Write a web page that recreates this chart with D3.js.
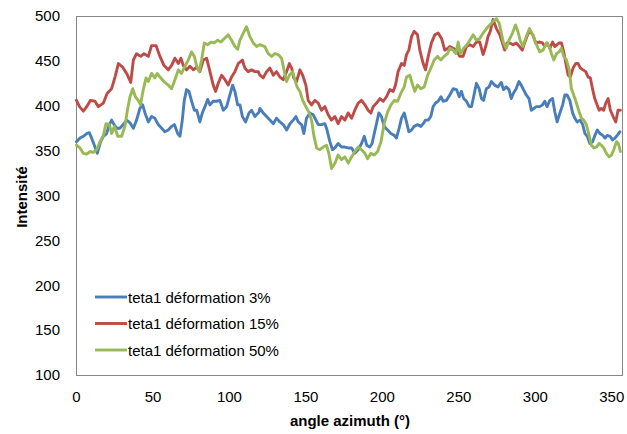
<!DOCTYPE html>
<html>
<head>
<meta charset="utf-8">
<script src="https://cdn.jsdelivr.net/npm/d3@7"></script>
<style>
  html, body { margin: 0; padding: 0; background: #fff; }
  svg { display: block; font-family: "Liberation Sans", Arial, sans-serif; }
</style>
</head>
<body>
<svg id="chart" width="627" height="434"></svg>
<script>
// Azimuthal intensity profiles (teta1) at three strain levels.
const xTicks = [0, 50, 100, 150, 200, 250, 300, 350];
const yTicks = [100, 150, 200, 250, 300, 350, 400, 450, 500];
const seriesNames = ["teta1 déformation 3%", "teta1 déformation 15%", "teta1 déformation 50%"];
const seriesColors = ["#4A7EBB", "#BE4B48", "#98B954"];

const anglesA = [0.3,2.6,4.8,7.0,8.7,10.2,12.4,13.9,16.1,17.9,20.0,21.8,23.3,24.9,26.6,28.7,30.9,33.1,35.3,37.5,39.6,41.8,43.6,45.1,47.3,49.4,51.6,53.8,56.0,
  58.1,60.3,62.5,64.3,66.5,68.0,69.5,70.8,72.3,73.9,75.6,77.4,78.9,81.0,82.6,84.3,86.1,87.6,89.7,91.9,94.1,96.3,98.5,100.6,102.4,103.9,105.7,107.2,108.8,110.9,113.1,114.8,117.0,119.7,
  120.2,122.4,124.6,126.8,129.0,131.1,133.3,135.5,137.7,139.9,142.0,143.8,145.3,147.5,149.0,150.7,152.9,155.1,156.9,158.4,160.5,162.7,163.8,166.0,167.7,169.3,171.4,173.6,175.8,178.0,180.2,
  182.3,184.5,186.7,188.5,190.1,192.1,193.6,195.0,196.5,198.0,199.7,201.5,203.7,205.9,208.1,209.5,211.3,212.8,214.6,216.1,217.6,219.4,221.1,223.3,225.5,227.0,228.5,230.3,232.0,233.5,235.1,236.8,238.6,240.1,242.2,
  244.4,246.6,248.8,250.6,252.0,253.5,255.3,257.1,258.6,260.0,261.8,263.6,265.1,266.5,268.3,270.1,271.6,273.7,275.9,278.1,279.5,281.3,283.1,284.6,286.0,287.8,289.6,291.1,292.6,294.4,296.2,297.7,299.3,301.0,
  303.2,305.0,306.5,308.0,309.8,311.6,313.1,314.6,316.4,318.2,319.6,321.1,322.9,324.7,326.2,327.7,329.5,331.3,332.8,334.3,336.0,337.8,339.3,340.8,342.6,344.4,345.9,347.4,349.1,350.8,352.4,353.9,355.6];
const valuesA = [360,364,366,369,370,364,354,347,360,366,369,379,384,379,375,375,379,384,381,375,384,397,401,392,382,388,386,379,375,
  371,373,377,379,369,366,384,406,418,416,405,395,395,382,392,399,407,401,405,405,406,395,399,412,423,416,401,401,388,382,392,395,388,393,
  397,392,388,384,380,386,382,379,373,380,384,388,382,379,369,386,392,390,384,379,379,380,375,360,351,353,358,354,354,353,353,
  347,351,358,366,356,354,358,369,380,392,388,377,373,369,367,364,375,386,392,382,371,373,377,379,377,380,384,384,388,399,403,405,410,405,406,
  412,419,418,410,416,408,405,399,399,410,425,419,408,406,419,421,427,423,421,426,418,421,418,408,414,419,427,423,418,412,408,395,397,399,
  399,401,405,399,406,408,393,382,392,401,412,412,406,392,386,382,384,379,369,366,358,360,367,373,369,367,364,367,366,362,364,367,371];

const anglesB = [0.3,2.3,4.8,7.0,9.5,12.4,14.6,17.9,20.4,23.3,25.5,27.7,30.5,33.1,35.8,37.5,39.6,42.3,44.5,47.3,49.4,52.3,54.9,57.5,
  60.3,62.5,64.7,66.9,68.6,70.1,72.3,74.5,76.7,78.9,81.0,83.2,85.4,87.6,89.7,91.3,93.0,95.2,97.4,99.5,101.7,103.9,106.1,108.8,110.4,112.6,114.8,117.0,119.2,
  120.2,122.4,124.6,126.8,129.0,131.1,133.3,135.5,137.7,139.5,141.0,142.4,144.2,146.4,148.2,150.3,151.8,154.0,156.2,158.4,160.5,162.7,164.9,167.1,169.3,171.4,173.6,175.8,178.0,180.2,
  182.3,184.5,186.7,188.9,191.0,192.8,194.3,196.5,198.7,200.9,203.0,205.2,207.4,208.9,210.6,212.8,214.6,216.1,217.6,219.4,221.1,223.3,224.8,227.0,228.5,230.3,232.4,234.6,236.8,239.0,241.1,243.3,
  244.4,246.6,248.8,250.9,253.1,255.3,257.5,259.7,261.8,264.0,266.2,267.9,269.4,270.9,272.7,274.9,277.1,278.8,280.3,281.8,283.6,285.8,287.8,290.0,291.8,293.3,294.8,296.5,298.7,300.6,
  303.2,305.0,306.5,308.0,309.8,311.6,313.1,314.6,315.9,317.4,318.9,320.3,321.8,323.2,325.0,326.8,328.3,329.8,331.5,333.3,334.8,336.3,337.7,339.2,340.7,342.1,343.5,345.0,346.4,347.9,349.4,351.2,352.9,354.4,355.9];
const valuesB = [406,399,394,399,406,405,399,403,414,419,432,447,443,436,426,451,458,455,458,455,467,467,455,445,
  440,445,453,447,453,445,440,444,440,443,438,451,453,438,423,416,425,434,429,423,432,438,447,451,442,438,440,438,438,
  434,431,438,442,434,438,432,429,438,447,442,431,427,440,434,423,406,401,406,403,395,399,390,384,388,380,388,384,392,386,
  395,403,406,401,395,392,399,403,408,405,410,418,416,423,438,447,445,457,462,477,483,479,462,447,440,455,470,479,481,475,462,464,
  466,464,462,455,455,466,468,466,471,471,457,466,477,483,496,486,479,470,462,470,470,468,470,466,462,470,477,484,479,470,
  471,470,466,470,464,471,466,468,470,470,460,447,434,432,442,447,447,442,440,438,432,431,419,408,401,395,397,395,403,408,395,388,382,395,395];

const anglesC = [0.3,2.6,4.8,7.0,9.1,11.3,13.5,15.7,17.9,19.6,21.8,23.3,25.1,27.3,29.8,32.0,33.6,35.3,37.1,38.8,40.7,42.2,44.0,45.8,47.3,49.4,51.6,53.1,54.9,57.5,
  60.3,62.5,64.7,66.9,69.0,71.2,73.4,75.6,77.4,78.9,80.6,82.1,83.9,86.1,88.3,90.4,92.6,94.8,97.0,99.5,101.7,103.9,105.7,107.2,109.4,111.5,113.7,115.9,118.1,
  120.2,123.5,125.7,127.9,130.0,132.2,134.4,136.0,137.7,139.5,141.6,143.1,144.6,146.4,148.2,150.3,152.5,154.0,155.5,157.3,159.5,161.6,163.8,165.3,167.1,169.3,171.4,173.6,175.8,178.0,180.2,
  182.3,184.5,186.7,188.9,190.6,192.8,195.0,197.2,199.4,201.5,203.7,205.9,208.1,210.3,212.4,214.6,216.1,218.3,219.8,221.5,223.3,225.5,227.7,229.9,232.0,234.2,236.4,238.6,240.7,242.9,
  244.4,246.6,248.4,249.9,251.3,253.5,255.7,257.5,259.7,261.8,264.0,266.2,268.4,270.5,272.7,274.9,276.7,278.1,279.5,281.3,283.1,285.4,287.4,288.9,290.4,292.2,294.4,296.5,298.7,300.6,
  303.2,305.4,307.6,309.4,310.9,312.4,314.2,315.9,317.4,318.9,320.7,322.5,323.9,325.4,327.2,329.0,330.5,332.0,333.7,335.5,337.0,338.5,340.3,342.1,343.5,345.0,346.8,348.6,350.1,351.6,353.4,354.6,355.9];
const valuesC = [356,353,347,346,349,348,351,360,367,380,379,369,377,366,366,377,395,410,419,410,406,401,418,431,427,436,431,436,432,427,
  423,419,429,440,436,444,451,460,455,444,438,451,470,468,471,470,473,471,475,479,473,466,463,473,481,488,477,470,466,
  468,466,458,455,458,457,453,440,427,434,438,429,421,416,406,399,392,384,367,353,351,354,356,347,330,336,345,340,343,336,343,
  349,354,351,347,341,347,345,349,360,380,393,401,406,405,414,421,432,434,425,416,423,419,421,434,442,451,455,451,455,458,
  464,462,458,471,458,464,468,473,479,473,475,481,486,490,494,497,492,481,470,464,473,481,490,483,473,466,477,486,479,470,
  460,462,470,466,458,451,458,460,464,455,451,440,419,412,403,393,386,384,379,367,356,353,354,358,356,353,347,343,345,351,360,358,349];

const seriesAngles = [anglesA, anglesB, anglesC];
const seriesValues = [valuesA, valuesB, valuesC];

const svg = d3.select("#chart");
const plot = { left: 76, right: 622, top: 16, bottom: 375 };

const x = d3.scaleLinear().domain([0, 357]).range([plot.left, plot.right]);
const y = d3.scaleLinear().domain([100, 500]).range([plot.bottom, plot.top]);

// plot frame
svg.append("rect")
  .attr("x", plot.left + 0.5).attr("y", plot.top + 0.5)
  .attr("width", plot.right - plot.left).attr("height", plot.bottom - plot.top)
  .attr("fill", "none").attr("stroke", "#868686").attr("stroke-width", 1);

// y axis labels
const yAxis = svg.append("g")
  .attr("transform", `translate(${plot.left},0)`)
  .call(d3.axisLeft(y).tickValues(yTicks).tickSize(0).tickPadding(16).tickFormat(d3.format("d")));
yAxis.select(".domain").remove();
yAxis.selectAll("text").attr("font-size", 15).attr("fill", "#000").attr("font-family", "Liberation Sans, Arial, sans-serif");

// x axis labels
const xAxis = svg.append("g")
  .attr("transform", `translate(0,${plot.bottom})`)
  .call(d3.axisBottom(x).tickValues(xTicks).tickSize(0).tickPadding(16).tickFormat(d3.format("d")));
xAxis.select(".domain").remove();
xAxis.selectAll("text").attr("font-size", 15).attr("fill", "#000").attr("font-family", "Liberation Sans, Arial, sans-serif");

// axis titles
svg.append("text")
  .attr("x", 350).attr("y", 426)
  .attr("text-anchor", "middle")
  .attr("font-size", 15).attr("font-weight", "bold")
  .text("angle azimuth (°)");

svg.append("text")
  .attr("transform", "translate(27,197) rotate(-90)")
  .attr("text-anchor", "middle")
  .attr("font-size", 15).attr("font-weight", "bold")
  .text("Intensité");

// series lines
const line = d3.line()
  .x(d => x(d[0]))
  .y(d => y(d[1]));

seriesValues.forEach((vals, i) => {
  const pts = vals.map((v, j) => [seriesAngles[i][j], v]);
  svg.append("path")
    .datum(pts)
    .attr("fill", "none")
    .attr("stroke", seriesColors[i])
    .attr("stroke-width", 2.9)
    .attr("stroke-linejoin", "round")
    .attr("stroke-linecap", "round")
    .attr("d", line);
});

// legend
const legend = svg.append("g");
seriesNames.forEach((name, i) => {
  const ly = 297 + i * 26.5;
  legend.append("line")
    .attr("x1", 95).attr("x2", 127)
    .attr("y1", ly).attr("y2", ly)
    .attr("stroke", seriesColors[i]).attr("stroke-width", 2.9);
  legend.append("text")
    .attr("x", 128).attr("y", ly + 5.5)
    .attr("font-size", 15).attr("fill", "#000")
    .text(name);
});
</script>
</body>
</html>
